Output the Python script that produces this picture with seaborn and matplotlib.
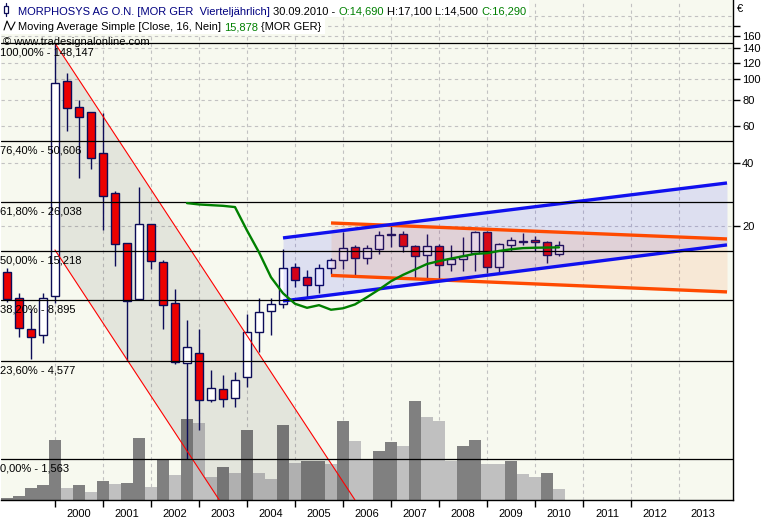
import numpy as np
import pandas as pd
import matplotlib
matplotlib.use("Agg")
import matplotlib.pyplot as plt
import matplotlib.ticker as mticker
from matplotlib.patches import Rectangle
from matplotlib.lines import Line2D
import seaborn as sns

# ---------------- data (quarterly, 1999Q1 .. 2010Q3) ----------------
quarters = [str(p) for p in pd.period_range("1999Q1", "2010Q3", freq="Q")]
opens = [12.07, 9.10, 6.51, 6.06, 9.30, 98.3, 73.6, 69.7, 44.5, 28.7, 16.6, 9.00,
         20.4, 13.6, 8.61, 4.47, 4.99, 2.98, 3.36, 3.06, 3.83, 6.26, 7.90, 8.53,
         12.79, 11.44, 10.52, 12.65, 13.80, 15.90, 14.10, 15.55, 18.43, 18.31, 16.07, 14.57,
         16.07, 13.21, 13.95, 14.89, 18.71, 12.79, 16.25, 16.92, 17.15, 16.78, 14.69]
highs = [12.65, 9.60, 8.07, 9.60, 148.147, 106.5, 79.6, 69.7, 68.9, 29.4, 16.7, 30.9,
         20.4, 13.85, 10.04, 7.18, 6.49, 4.13, 3.93, 4.07, 7.67, 9.10, 9.10, 15.55,
         13.36, 12.42, 13.21, 14.10, 18.84, 16.25, 16.25, 18.92, 20.42, 18.92, 16.25, 18.31,
         16.43, 16.25, 17.72, 18.92, 18.92, 16.71, 17.72, 18.51, 17.92, 16.97, 17.10]
lows = [8.77, 5.97, 4.68, 5.56, 8.64, 56.9, 34.0, 37.4, 19.3, 13.0, 4.59, 8.91,
        12.5, 6.51, 4.42, 1.563, 2.14, 2.92, 2.76, 2.78, 3.43, 5.04, 6.06, 8.16,
        10.32, 9.26, 9.67, 11.81, 12.52, 11.73, 13.21, 14.73, 15.90, 15.06, 11.32, 11.32,
        11.19, 12.24, 12.24, 12.24, 11.98, 12.19, 15.22, 16.25, 15.22, 13.36, 14.50]
closes = [9.00, 6.55, 5.94, 9.16, 95.5, 72.8, 66.0, 42.1, 27.8, 16.4, 8.80, 20.4,
          13.7, 8.43, 4.52, 5.32, 2.98, 3.39, 3.02, 3.71, 6.26, 7.81, 8.55, 12.65,
          11.10, 10.48, 12.65, 13.80, 15.73, 14.10, 15.73, 18.12, 18.24, 16.07, 14.42, 16.07,
          13.07, 13.95, 14.42, 18.71, 12.79, 16.43, 17.15, 17.02, 16.78, 14.57, 16.29]
volumes = [20, 40, 120, 150, 600, 120, 150, 80, 190, 160, 170, 620,
           130, 410, 250, 810, 770, 230, 330, 270, 700, 270, 210, 750,
           370, 390, 395, 360, 790, 590, 400, 490, 580, 540, 990, 830,
           790, 390, 540, 600, 360, 360, 390, 260, 230, 270, 110]

fib_pct = ["100,00%", "76,40%", "61,80%", "50,00%", "38,20%", "23,60%", "0,00%"]
fib_val = [148.147, 50.606, 26.038, 15.218, 8.895, 4.577, 1.563]

year_labels = [str(y) for y in range(2000, 2014)]
price_ticks = [20, 40, 60, 80, 100, 120, 140, 160, 180]
price_grid = [20, 40, 60, 80, 100, 120, 140, 160, 180, 200]

# trend channels: anchor points (quarter index, price)
red_x = [4, 29]
red_upper = [148.147, 1.0]
red_lower = [15.43, 0.1042]
blue_x = [23, 60]
blue_upper = [17.61, 32.13]
blue_lower = [8.83, 16.31]
orange_x = [27, 60]
orange_upper = [20.74, 17.41]
orange_lower = [11.68, 9.75]

ma_period = 16

# ---------------- style ----------------
sns.set_theme(style="white")
plt.rcParams["font.family"] = ["Liberation Sans", "DejaVu Sans"]
plt.rcParams["font.size"] = 8
plt.rcParams["axes.linewidth"] = 1.0

W, H = 769, 520
fig = plt.figure(figsize=(W / 100, H / 100), dpi=100, facecolor="white")
PX_L, PX_R, PX_T, PX_B = 1, 733, 0, 500
rect = [PX_L / W, 1 - PX_B / H, (PX_R - PX_L) / W, (PX_B - PX_T) / H]
XLIM = (-0.5, 60.5)
YLIM = (1.0, 238.0)

n = len(quarters)
idx = np.arange(n)
first_year = int(quarters[0][:4])
year_bounds = [(int(y) - first_year) * 4 for y in year_labels]
label_pos = [b + 2 for b in year_bounds]

NAVY = "#0c0c58"

# background / grid layer
grid_ax = fig.add_axes(rect, facecolor="#f7f9ef", label="grid")
grid_ax.set_yscale("log")
grid_ax.set_xlim(XLIM)
grid_ax.set_ylim(YLIM)
for xb in year_bounds:
    grid_ax.axvline(xb, color="#c2c2c2", lw=0.8, ls=(0, (3, 3)))
for yg in price_grid:
    grid_ax.axhline(yg, color="#c2c2c2", lw=0.8, ls=(0, (3, 3)))
grid_ax.set_xticks([])
grid_ax.set_yticks([])
grid_ax.yaxis.set_minor_locator(mticker.NullLocator())
for s in grid_ax.spines.values():
    s.set_visible(False)

# volume layer
vol_ax = fig.add_axes(rect, facecolor="none", label="vol")
vol_colors = ["#808080" if i == 0 or volumes[i] > volumes[i - 1] else "#c0c0c0" for i in range(n)]
vol_ax.bar(idx, volumes, width=1.0, color=vol_colors, linewidth=0)
vol_ax.set_xlim(XLIM)
vol_ax.set_ylim(0, 5000)
vol_ax.axis("off")

# price layer
ax = fig.add_axes(rect, facecolor="none", label="price")
ax.set_yscale("log")

ax.fill_between(red_x, red_lower, red_upper, color="black", alpha=0.08, lw=0, zorder=1)

o = np.array(opens)
c = np.array(closes)
body_lo = np.minimum(o, c)
body_hi = np.maximum(o, c)
up = c >= o
ax.vlines(idx, lows, highs, color=NAVY, lw=1.0, zorder=3)
ax.bar(idx, body_hi - body_lo, bottom=body_lo, width=0.6,
       color=np.where(up, "white", "#ec0000"), edgecolor=NAVY, linewidth=1.0, zorder=4)

ax.fill_between(blue_x, blue_lower, blue_upper, color="#0000ff", alpha=0.10, lw=0, zorder=5)
ax.fill_between(orange_x, orange_lower, orange_upper, color="#ff5a00", alpha=0.10, lw=0, zorder=5)

for yv in (red_upper, red_lower):
    ax.plot(red_x, yv, color="#ff0000", lw=0.8, zorder=6)
for yv in (orange_upper, orange_lower):
    ax.plot(orange_x, yv, color="#ff4a00", lw=2.4, zorder=6, solid_capstyle="butt")
for yv in (blue_upper, blue_lower):
    ax.plot(blue_x, yv, color="#1010ee", lw=2.4, zorder=6, solid_capstyle="butt")

for v in fib_val:
    ax.axhline(v, color="black", lw=0.9, zorder=6)

ma = pd.Series(closes).rolling(ma_period).mean()
df_ma = pd.DataFrame({"x": idx, "ma": ma}).dropna()
sns.lineplot(data=df_ma, x="x", y="ma", ax=ax, color="#008000", lw=1.7,
             zorder=7, estimator=None, legend=False)
ax.set_xlabel("")
ax.set_ylabel("")


def fmt(v):
    return f"{v:.3f}".replace(".", ",")


for pct, v in zip(fib_pct, fib_val):
    ax.annotate(f"{pct} - {fmt(v)}", xy=(0, v), xycoords=("figure pixels", "data"),
                xytext=(0, -9), textcoords="offset pixels", ha="left", va="center",
                fontsize=8, color="black", zorder=8, annotation_clip=False)

ax.set_xlim(XLIM)
ax.set_ylim(YLIM)
ax.yaxis.tick_right()
ax.set_yticks(price_ticks)
ax.set_yticklabels([str(t) if t != 180 else "" for t in price_ticks])
ax.yaxis.set_minor_locator(mticker.NullLocator())
ax.yaxis.set_minor_formatter(mticker.NullFormatter())
ax.set_xticks(year_bounds[:-1])
ax.set_xticklabels([])
ax.set_xticks(label_pos, minor=True)
ax.set_xticklabels(year_labels, minor=True)
ax.tick_params(axis="x", which="major", length=5, width=1, direction="out", color="black", bottom=True)
ax.tick_params(axis="x", which="minor", length=0, pad=6.5, labelsize=8, labelcolor="black", bottom=True)
ax.tick_params(axis="y", which="major", right=True, left=False, length=5, width=1,
               direction="out", pad=1.5, labelsize=8, labelcolor="black", color="black")
ax.spines["top"].set_visible(False)
ax.spines["left"].set_visible(False)
ax.spines["right"].set_color("black")
ax.spines["bottom"].set_color("black")
ax.grid(False)

# ---------------- header texts ----------------
def fx(x):
    return x / W


def fy(y):
    return 1 - y / H


renderer = fig.canvas.get_renderer()


def tw(s):
    t = fig.text(0, 0, s, fontsize=8)
    w = t.get_window_extent(renderer).width
    t.remove()
    return w


space = tw("a a") - tw("aa")


def draw_parts(x, y_base, parts):
    for i, (s, col) in enumerate(parts):
        if i > 0:
            x += space
        t = fig.text(fx(x), fy(y_base), s, color=col, fontsize=8, ha="left",
                     va="baseline", zorder=10)
        x += t.get_window_extent(renderer).width
    return x


x1 = draw_parts(18, 15, [("MORPHOSYS AG O.N. [MOR GER  Vierteljährlich]", "#000080"),
                         ("30.09.2010 -", "black"),
                         ("O:14,690", "#008000"),
                         ("H:17,100 L:14,500", "black"),
                         ("C:16,290", "#008000")])
x2 = draw_parts(18, 30, [("Moving Average Simple [Close, 16, Nein]", "black"),
                         ("15,878", "#008000"),
                         ("{MOR GER}", "black")])
fig.text(fx(3), fy(45), "© www.tradesignalonline.com", color="black", fontsize=8,
         ha="left", va="baseline", zorder=10)

fig.add_artist(Rectangle((0, fy(17)), fx(x1 + 3), 17 / H, transform=fig.transFigure,
                         facecolor="white", edgecolor="none", zorder=9))
fig.add_artist(Rectangle((0, fy(34)), fx(x2 + 3), 17 / H, transform=fig.transFigure,
                         facecolor="white", edgecolor="none", zorder=9))
# candle icon
fig.add_artist(Line2D([fx(5.5), fx(5.5)], [fy(2.5), fy(15.5)], transform=fig.transFigure,
                      color=NAVY, lw=0.9, zorder=10))
fig.add_artist(Rectangle((fx(3.5), fy(12.5)), 4.5 / W, 6.5 / H, transform=fig.transFigure,
                         facecolor="white", edgecolor=NAVY, lw=0.9, zorder=11))
# line icon
fig.add_artist(Line2D([fx(4), fx(7), fx(11), fx(15)], [fy(30), fy(21), fy(30), fy(22)],
                      transform=fig.transFigure, color="black", lw=0.8, zorder=10))
# currency sign above the price scale
fig.text(fx(737), fy(9), "€", fontsize=8, ha="left", va="center", color="black")

fig.savefig("out.png", dpi=100, facecolor="white")
